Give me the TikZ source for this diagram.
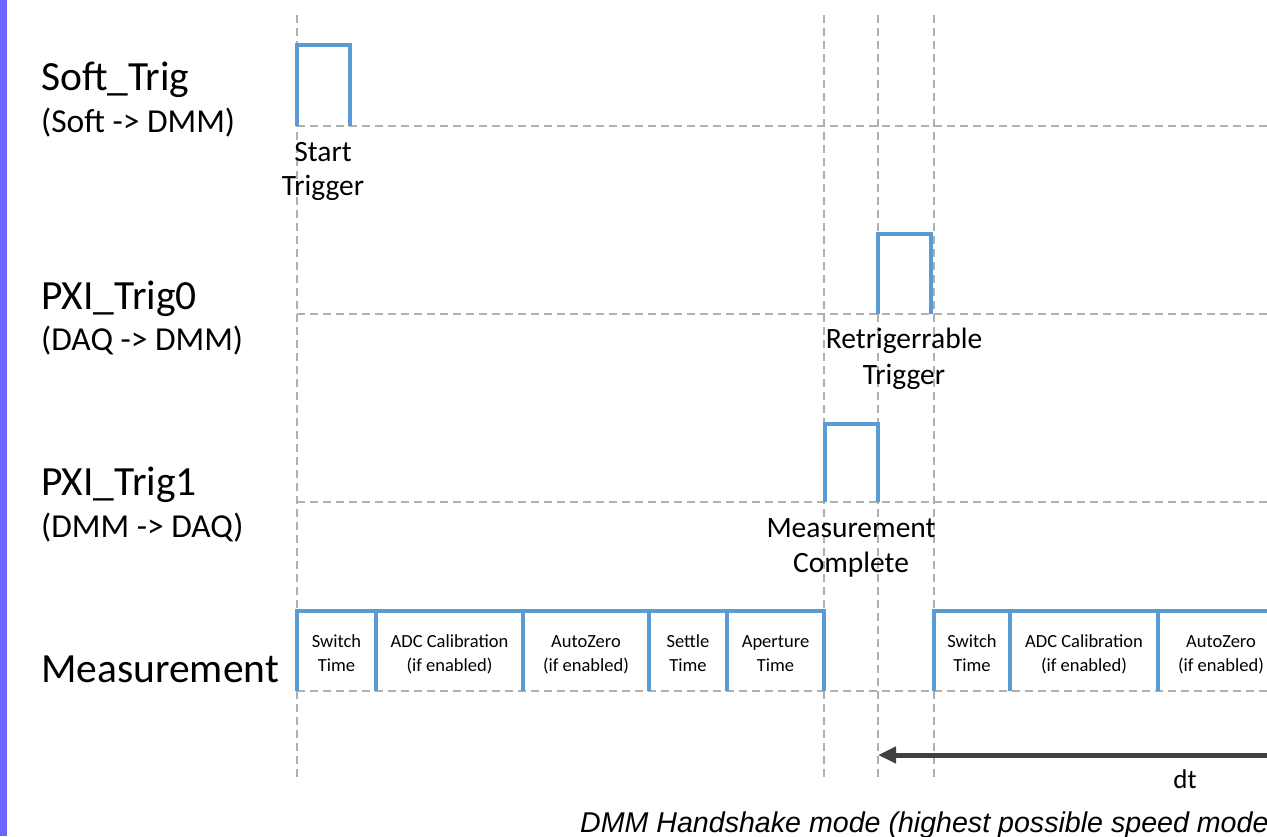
\documentclass[tikz,border=0pt]{standalone}
\usepackage{fontspec}
\setmainfont{Carlito}
\newfontfamily\capfont{Liberation Sans}
\usetikzlibrary{arrows.meta}
\definecolor{sigblue}{HTML}{5B9BD5}
\definecolor{gridgray}{HTML}{B0B0B0}
\definecolor{arrowgray}{HTML}{404040}
\definecolor{barpurple}{HTML}{6B66FF}
\begin{document}
\begin{tikzpicture}[x=1pt,y=-1pt,
  gridline/.style={gridgray, line width=1.8pt, dash pattern=on 8pt off 5pt},
  sig/.style={sigblue, line width=4.5pt, line join=miter},
  biglabel/.style={anchor=base west, inner sep=0pt, font=\fontsize{41.5}{48}\selectfont},
  sublabel/.style={anchor=base west, inner sep=0pt, font=\fontsize{33.5}{38}\selectfont},
  evlabel/.style={anchor=base, inner sep=0pt, font=\fontsize{29.5}{35}\selectfont},
  boxlabel/.style={anchor=base, inner sep=0pt, font=\fontsize{18.5}{24}\selectfont},
  dtarrow/.style={arrowgray, line width=5pt, -{Triangle[length=18pt,width=16pt]}},
]
\useasboundingbox (0,0) rectangle (1267,836);
\clip (0,0) rectangle (1267,836);
\fill[white] (0,0) rectangle (1267,836);
\fill[barpurple] (0,0) rectangle (6.5,836);

% dashed grid
\foreach \x in {297,824,878,934} \draw[gridline] (\x,15) -- (\x,782);
\foreach \y in {126,314,502,691} \draw[gridline] (297,\y) -- (1280,\y);

% signal labels
\node[biglabel] (l1) at (41,90) {Soft\_Trig};
\node[sublabel] (s1) at (41,132) {(Soft -> DMM)};
\node[biglabel] (l2) at (41,309) {PXI\_Trig0};
\node[sublabel] (s2) at (41,350) {(DAQ -> DMM)};
\node[biglabel] (l3) at (41,495) {PXI\_Trig1};
\node[sublabel] (s3) at (41,537) {(DMM -> DAQ)};
\node[biglabel] (l4) at (41,682) {Measurement};

% pulses
\draw[sig] (297,126) -- (297,45) -- (350,45) -- (350,126);
\draw[sig] (878,314) -- (878,234) -- (931,234) -- (931,314);
\draw[sig] (825,502) -- (825,424) -- (878,424) -- (878,502);

% event labels
\node[evlabel] (e1a) at (323,161) {Start};
\node[evlabel] (e1b) at (323,195) {Trigger};
\node[evlabel] (e2a) at (904,348) {Retrigerrable};
\node[evlabel] (e2b) at (904,384) {Trigger};
\node[evlabel] (e3a) at (851,537) {Measurement};
\node[evlabel] (e3b) at (851,572) {Complete};

% measurement phases
\draw[sig] (297,691) -- (297,611) -- (824,611) -- (824,691);
\foreach \x in {376,523,649,727} \draw[sig] (\x,611) -- (\x,691);
\draw[sig] (934,691) -- (934,611) -- (1290,611);
\foreach \x in {1010,1158} \draw[sig] (\x,611) -- (\x,691);

\foreach \cx/\la/\lb [count=\i] in {336.5/Switch/Time, 449.5/ADC Calibration/(if enabled),
    586/AutoZero/(if enabled), 688/Settle/Time, 775.5/Aperture/Time,
    972/Switch/Time, 1084/ADC Calibration/(if enabled), 1221/AutoZero/(if enabled)} {
  \node[boxlabel] (pa\i) at (\cx,647) {\la};
  \node[boxlabel] (pb\i) at (\cx,671) {\lb};
}

% dt arrow
\coordinate (dtR) at (1300,755);
\coordinate (dtL) at (878,755);
\draw[dtarrow] (dtR) -- (dtL);
\node[anchor=base, inner sep=0pt, font=\fontsize{27}{32}\selectfont] (dt) at (1185,788) {dt};

% caption
\node[anchor=base west, inner sep=0pt, font=\capfont\itshape\fontsize{28.6}{34}\selectfont] (cap) at (580,832) {DMM Handshake mode (highest possible speed mode};
\end{tikzpicture}
\end{document}
